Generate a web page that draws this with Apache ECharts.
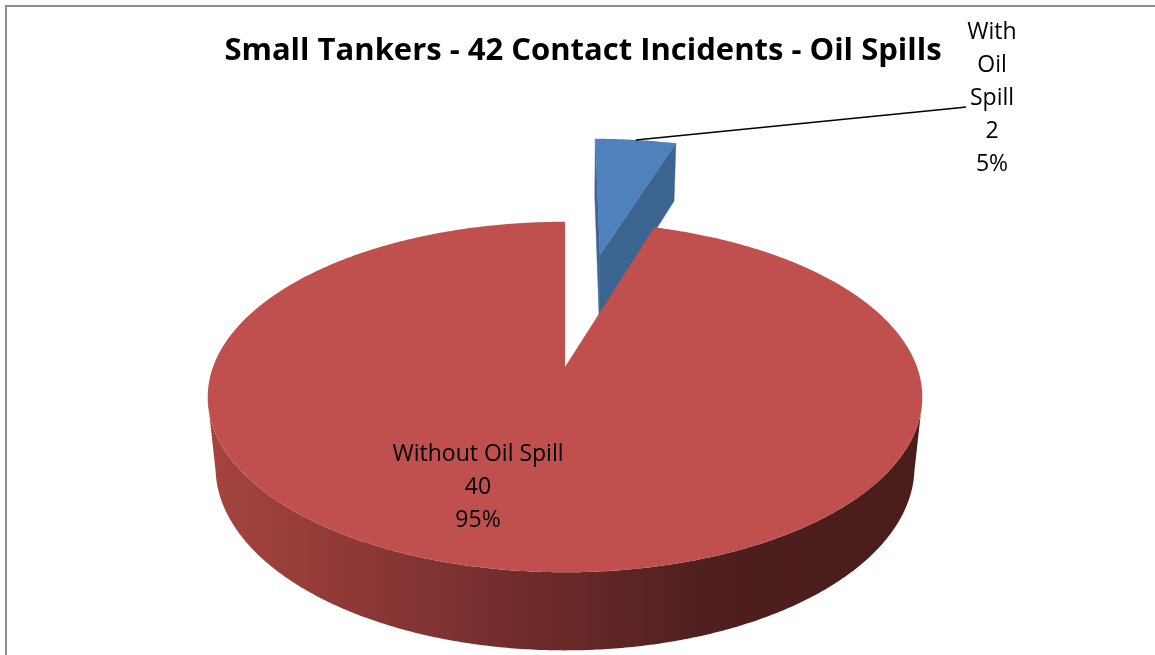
<!DOCTYPE html>
<html>
<head>
<meta charset="utf-8">
<script src="https://cdn.jsdelivr.net/npm/echarts@6/dist/echarts.min.js"></script>
<style>
  html, body { margin: 0; padding: 0; background: #ffffff; }
  #chart { width: 1155px; height: 655px; }
</style>
</head>
<body>
<div id="chart"></div>
<script>
// ---- data ----
const titleText = 'Small Tankers - 42 Contact Incidents - Oil Spills';
const categories = ['With Oil Spill', 'Without Oil Spill'];
const labelNames = ['With\nOil\nSpill', 'Without Oil Spill'];
const counts = [2, 40];

// ---- styling / layout ----
const DEG = Math.PI / 180;
const topColors = ['#4F81BD', '#C0504D'];
const cutColors = ['#3C6491', '#8A3A37'];
const explodeBy = [0.75, 0];            // radial offset of each slice, in radii
const labelPos = [[992, 98], [478, 487]];
const leaderBends = [[[957, 108], [966, 107]], null];
const labelFont = '23px "Open Sans", "Liberation Sans", sans-serif';
const titleFont = 'bold 31px "Open Sans", "Liberation Sans", sans-serif';

// simple perspective camera looking down on the pie disc
const view = { cx: 565, cy: 367, radius: 352, camDist: 5.11, tilt: 28.9 * DEG, thickness: 0.23 };
const sinT = Math.sin(view.tilt), cosT = Math.cos(view.tilt);
const focal = view.radius * view.camDist;
const camZ = -view.camDist * cosT;       // camera position along the disc's depth axis

function project(x, z, y) {
  const yc = z * sinT + y * cosT;
  const d = view.camDist + z * cosT - y * sinT;
  return [view.cx + focal * x / d, view.cy - focal * yc / d];
}

const total = counts.reduce((a, b) => a + b, 0);
const startAngles = [];
counts.reduce((acc, v) => { startAngles.push(acc / total * 2 * Math.PI); return acc + v; }, 0);

function sideGradient() {
  return new echarts.graphic.LinearGradient(0, 0, 1, 0, [
    { offset: 0, color: '#A6443F' },
    { offset: 0.22, color: '#8C3836' },
    { offset: 0.45, color: '#6F2B2B' },
    { offset: 0.7, color: '#4F1F1F' },
    { offset: 1, color: '#4A1C1C' }
  ]);
}

function renderSlice(params, api) {
  const i = params.dataIndex;
  const value = api.value(0);
  const a0 = startAngles[i];
  const a1 = a0 + value / total * 2 * Math.PI;
  const mid = (a0 + a1) / 2;
  const ox = explodeBy[i] * Math.sin(mid);
  const oz = explodeBy[i] * Math.cos(mid);
  const bottom = -view.thickness;

  const rim = (a, y) => project(ox + Math.sin(a), oz + Math.cos(a), y);
  const arc = (from, to, y) => {
    const n = Math.max(2, Math.ceil(Math.abs(to - from) / (0.5 * DEG)));
    const pts = [];
    for (let k = 0; k <= n; k++) pts.push(rim(from + (to - from) * k / n, y));
    return pts;
  };
  const children = [];

  // outer wall: only the part turned towards the camera
  const faces = a => {
    const X = ox + Math.sin(a), Z = oz + Math.cos(a);
    return -X * Math.sin(a) + (camZ - Z) * Math.cos(a) > 0;
  };
  let v0 = null, v1 = null;
  const steps = Math.ceil((a1 - a0) / (0.25 * DEG));
  for (let k = 0; k <= steps; k++) {
    const a = a0 + (a1 - a0) * k / steps;
    if (faces(a)) { if (v0 === null) v0 = a; v1 = a; }
  }
  if (v0 !== null) {
    v0 = Math.max(a0, v0 - 2 * DEG);
    v1 = Math.min(a1, v1 + 2 * DEG);
    const pts = arc(v0, v1, 0).concat(arc(v1, v0, bottom));
    children.push({ type: 'polygon', shape: { points: pts }, style: { fill: sideGradient() } });
  }

  // radial cut faces
  const apexTop = project(ox, oz, 0);
  const apexBottom = project(ox, oz, bottom);
  [[a0, -1], [a1, 1]].forEach(([a, sign]) => {
    const nx = sign * Math.cos(a), nz = -sign * Math.sin(a);
    if (nx * (-ox) + nz * (camZ - oz) > 1e-6) {
      children.push({
        type: 'polygon',
        shape: { points: [apexTop, rim(a, 0), rim(a, bottom), apexBottom] },
        style: { fill: cutColors[i], stroke: cutColors[i], lineWidth: 0.5 }
      });
    }
  });

  // top face
  children.push({
    type: 'polygon',
    shape: { points: [apexTop].concat(arc(a0, a1, 0)) },
    style: { fill: topColors[i] }
  });

  // leader line for labels placed outside the pie
  if (leaderBends[i]) {
    const start = rim(mid, 0);
    children.push({
      type: 'polyline',
      shape: { points: [start].concat(leaderBends[i]) },
      style: { stroke: '#000000', lineWidth: 1.5, fill: null }
    });
  }

  // data label: name, count, share
  const pct = Math.round(value / total * 100);
  children.push({
    type: 'text',
    x: labelPos[i][0],
    y: labelPos[i][1],
    style: {
      text: labelNames[i] + '\n' + value + '\n' + pct + '%',
      font: labelFont,
      fill: '#000000',
      align: 'center',
      verticalAlign: 'middle',
      textAlign: 'center',
      textVerticalAlign: 'middle',
      lineHeight: 33
    }
  });

  return { type: 'group', children };
}

const chart = echarts.init(document.getElementById('chart'), null, { renderer: 'canvas' });
chart.setOption({
  backgroundColor: '#ffffff',
  animation: false,
  graphic: [
    {
      type: 'rect',
      shape: { x: 6, y: 6, width: 1300, height: 800 },
      style: { fill: null, stroke: '#8C8C8C', lineWidth: 2 },
      silent: true
    },
    {
      type: 'text',
      x: 583,
      y: 51,
      style: {
        text: titleText,
        font: titleFont,
        fill: '#000000',
        align: 'center',
        verticalAlign: 'middle',
        textAlign: 'center',
        textVerticalAlign: 'middle'
      },
      silent: true
    }
  ],
  series: [{
    type: 'custom',
    coordinateSystem: 'none',
    silent: true,
    renderItem: renderSlice,
    data: counts.map((v, i) => ({ name: categories[i], value: [v] }))
  }]
});
</script>
</body>
</html>
